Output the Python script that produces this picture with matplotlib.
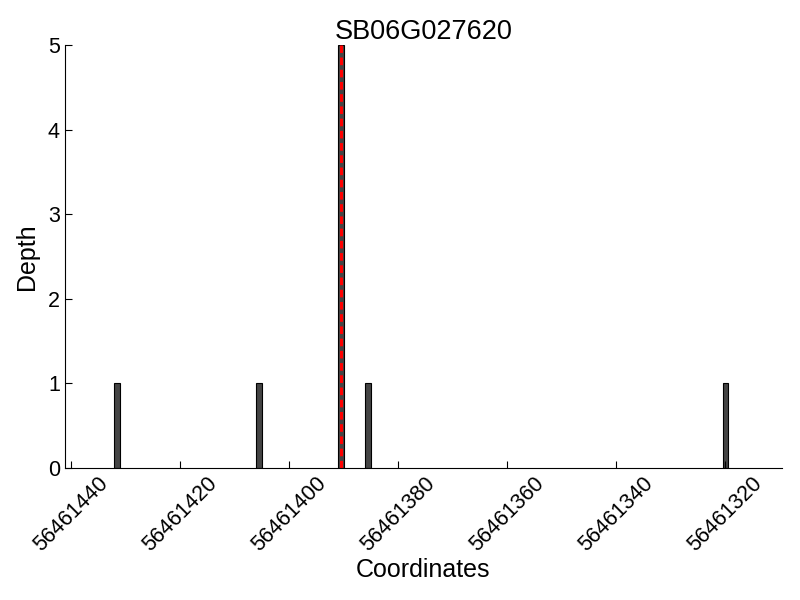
import matplotlib
matplotlib.use("Agg")
import matplotlib.pyplot as plt
from matplotlib.ticker import ScalarFormatter

plt.rcParams['font.family'] = ['Liberation Sans', 'DejaVu Sans']

# Data ########################################################################
positions = [56461431, 56461405, 56461390, 56461385, 56461319.5]
depths = [1, 1, 5, 1, 1]
target_pos = 56461390.5
title = "SB06G027620"
xticks = [56461440, 56461420, 56461400, 56461380, 56461360, 56461340, 56461320]

# Plot ########################################################################
fig = plt.figure(figsize=(8, 6), dpi=100)
ax = fig.add_axes([0.081, 0.22, 0.896, 0.705])

ax.bar(positions, depths, width=1, align='edge', color='#444444',
       edgecolor='black', linewidth=0.8)
ax.axvline(target_pos, color='red', linestyle='--', linewidth=2.2,
           dashes=(2.5, 1.5))

ax.set_xlim(56461441.1, 56461309.7)
ax.set_ylim(0, 5)
ax.set_xticks(xticks)
fmt = ScalarFormatter(useOffset=False)
fmt.set_scientific(False)
ax.xaxis.set_major_formatter(fmt)
ax.set_yticks(range(6))

ax.spines['top'].set_visible(False)
ax.spines['right'].set_visible(False)
ax.tick_params(direction='in', length=5, labelsize=15.5, top=False, right=False)
plt.setp(ax.get_xticklabels(), rotation=45)

ax.set_title(title, fontsize=19.5, pad=2)
ax.set_xlabel("Coordinates", fontsize=18, labelpad=2)
ax.set_ylabel("Depth", fontsize=18, labelpad=6)

fig.savefig("out.png", dpi=100)
plt.close()
